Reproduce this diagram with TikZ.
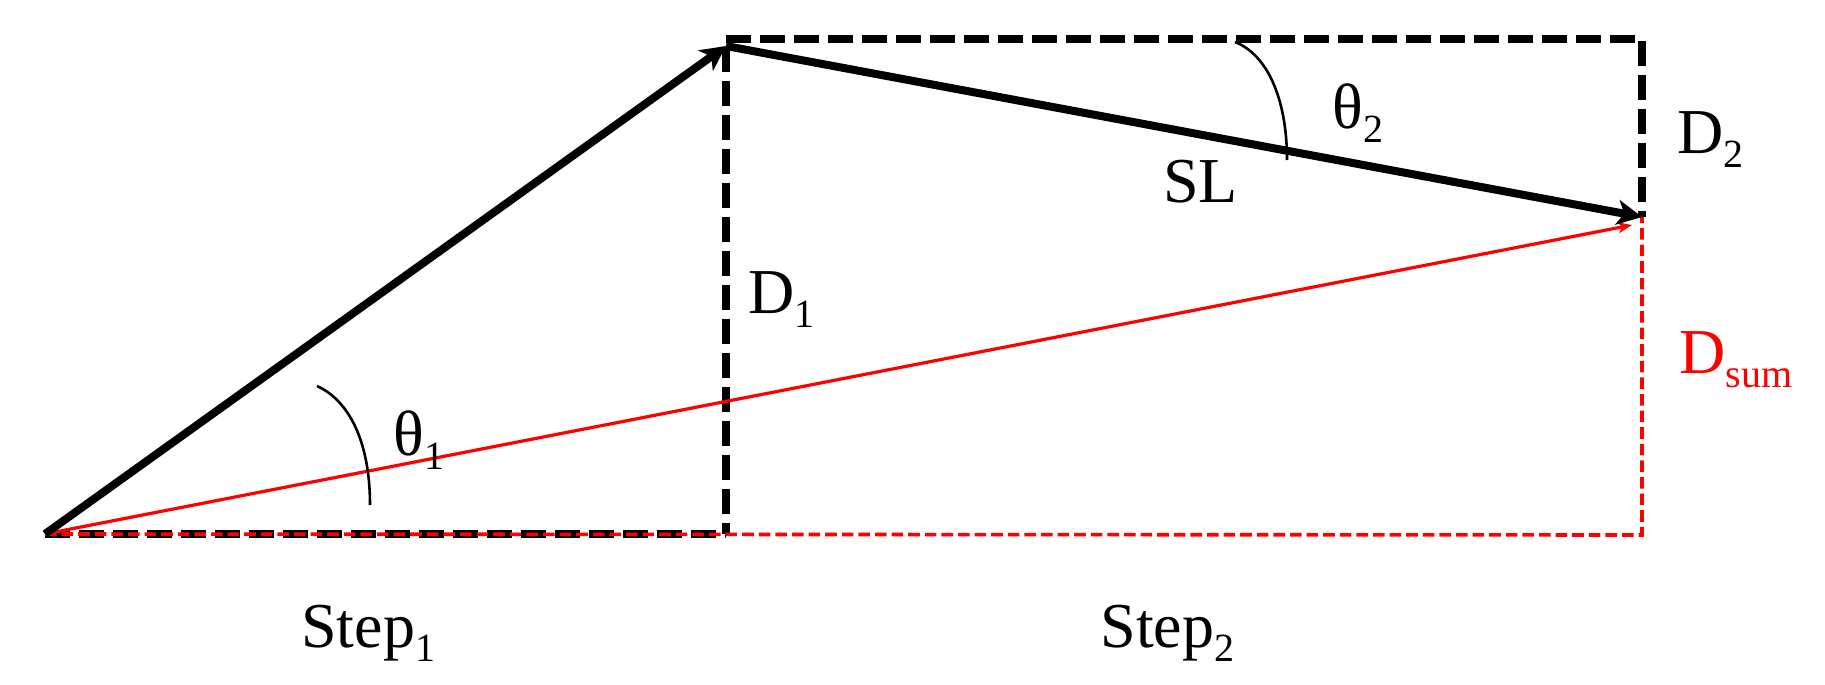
\documentclass[tikz,border=0pt]{standalone}
\usepackage{fontspec}
\setmainfont{Liberation Serif}
\usetikzlibrary{arrows.meta}
\newcommand{\lsub}[1]{\raisebox{-7pt}{\fontsize{20}{20}\selectfont #1}}
\begin{document}
\begin{tikzpicture}[x=0.5pt,y=-0.5pt,
  lbl/.style={inner sep=0pt,anchor=base west,font=\fontsize{32}{36}\selectfont},
  vec/.style={line width=4pt,-{Stealth[length=12.5pt,width=12.5pt,inset=3.5pt]}},
  sumvec/.style={red,line width=1.6pt,-{Stealth[length=7pt,width=5.5pt,inset=2pt]}},
  guide/.style={line width=4pt,dash pattern=on 12.5pt off 4.5pt},
  redguide/.style={red,line width=1.8pt,dash pattern=on 5.8pt off 2.5pt},
  anglearc/.style={line width=1.3pt}]
\useasboundingbox (0,0) rectangle (1825,685);
\coordinate (A) at (45,534);
\coordinate (B) at (726,46);
\coordinate (C) at (1642,217);
\coordinate (Cr) at (1632,225);
\coordinate (V1) at (726,47);
\coordinate (F1) at (726,534);
\coordinate (F2) at (1642,535);
\coordinate (T1) at (726,39);
\coordinate (T2) at (1642,39);
% guides
\draw[guide] (A) -- (F1);
\draw[guide] (V1) -- (F1);
\draw[guide] (T1) -- (T2) -- (C);
\draw[redguide] (A) -- (F2) -- (C);
% vectors
\draw[sumvec] (A) -- (Cr);
\draw[vec] (A) -- (B);
\draw[vec] (B) -- (C);
% angle arcs
\draw[anglearc] (317,386) .. controls (348,400) and (370,440) .. (370,505);
\draw[anglearc] (1235,42) .. controls (1268,55) and (1287,100) .. (1287,160);
% labels
\node[lbl] (step1) at (301,647) {Step\lsub{1}};
\node[lbl] (step2) at (1100,647) {Step\lsub{2}};
\node[lbl] (d1) at (748,313) {D\lsub{1}};
\node[lbl] (d2) at (1677,153) {D\lsub{2}};
\node[lbl,text=red] (dsum) at (1679,373) {D\lsub{sum}};
\node[lbl] (sl) at (1163,202) {SL};
\node[lbl] (th1) at (393,455) {θ\lsub{1}};
\node[lbl] (th2) at (1332,128) {θ\lsub{2}};
\end{tikzpicture}
\end{document}
